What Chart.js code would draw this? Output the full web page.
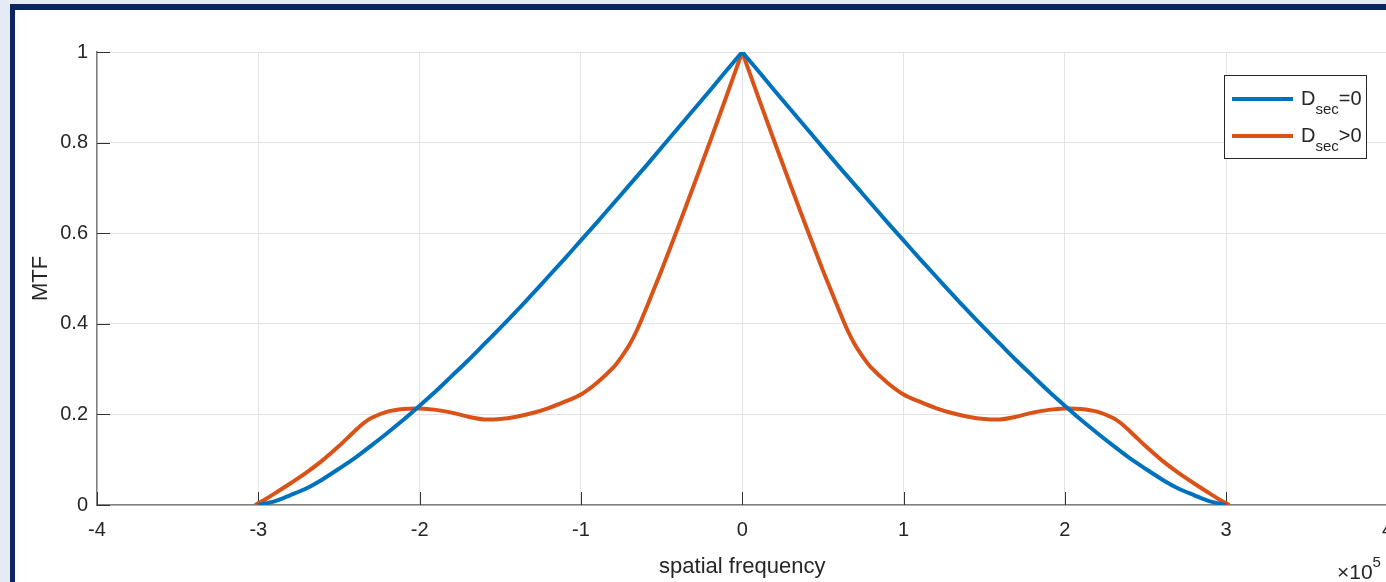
<!DOCTYPE html>
<html><head><meta charset="utf-8">
<script src="https://cdn.jsdelivr.net/npm/chart.js@4.4.1/dist/chart.umd.min.js"></script>
<style>
html,body{margin:0;padding:0;width:1386px;height:582px;overflow:hidden;background:#e4ebf4;}
#frame{position:absolute;left:10px;top:4px;width:1420px;height:620px;background:#ffffff;border-left:5px solid #0c2462;border-top:6px solid #0c2462;}
#wrap{position:absolute;left:0;top:0;width:1406px;height:582px;}
</style></head>
<body>
<div id="frame"></div>
<div id="wrap"><canvas id="c" width="1406" height="582"></canvas></div>
<script>
// ---- data (spatial frequency in units of 1e5) ----
const freqBlue = [-3.0,-2.9,-2.8,-2.7,-2.6,-2.5,-2.4,-2.3,-2.2,-2.1,-2.0,-1.9,-1.8,-1.7,-1.6,-1.5,-1.4,-1.3,-1.2,-1.1,-1.0,-0.9,-0.8,-0.7,-0.6,-0.5,-0.4,-0.3,-0.2,-0.1,0.0,0.0,
  0.1,0.2,0.3,0.4,0.5,0.6,0.7,0.8,0.9,1.0,1.1,1.2,1.3,1.4,1.5,1.6,1.7,1.8,1.9,2.0,2.1,2.2,2.3,2.4,2.5,2.6,2.7,2.8,2.9,3.0];
const mtfBlue = [0,0.008,0.022,0.037,0.057,0.080,0.104,0.131,0.159,0.188,0.219,0.251,0.285,0.319,0.355,0.391,0.428,0.466,0.505,0.544,0.584,0.624,0.665,0.706,0.747,0.789,0.831,0.873,0.915,0.958,1.000,1.000,
  0.958,0.915,0.873,0.831,0.789,0.747,0.706,0.665,0.624,0.584,0.544,0.505,0.466,0.428,0.391,0.355,0.319,0.285,0.251,0.219,0.188,0.159,0.131,0.104,0.080,0.057,0.037,0.022,0.008,0];

const freqOrange = [-3.02,-2.95,-2.9,-2.8,-2.7,-2.6,-2.5,-2.45,-2.4,-2.35,-2.3,-2.2,-2.1,-2.0,-1.9,-1.8,-1.7,-1.6,-1.5,-1.4,-1.3,-1.2,-1.1,-1.0,-0.9,-0.8,-0.75,-0.7,-0.65,-0.6,-0.55,-0.5,-0.4,-0.3,-0.2,-0.1,0.0,0.0,
  0.1,0.2,0.3,0.4,0.5,0.55,0.6,0.65,0.7,0.75,0.8,0.9,1.0,1.1,1.2,1.3,1.4,1.5,1.6,1.7,1.8,1.9,2.0,2.1,2.2,2.3,2.35,2.4,2.45,2.5,2.6,2.7,2.8,2.9,2.95,3.02];
const mtfOrange = [0,0.014,0.025,0.048,0.072,0.099,0.130,0.147,0.164,0.180,0.192,0.206,0.212,0.213,0.210,0.204,0.195,0.189,0.190,0.195,0.203,0.214,0.228,0.244,0.270,0.303,0.326,0.353,0.388,0.430,0.474,0.518,0.611,0.706,0.802,0.900,1.000,1.000,
  0.900,0.802,0.706,0.611,0.518,0.474,0.430,0.388,0.353,0.326,0.303,0.270,0.244,0.228,0.214,0.203,0.195,0.190,0.189,0.195,0.204,0.210,0.213,0.212,0.206,0.192,0.180,0.164,0.147,0.130,0.099,0.072,0.048,0.025,0.014,0];

const xTickValues = [-4,-3,-2,-1,0,1,2,3,4];
const xTickLabels = ['-4','-3','-2','-1','0','1','2','3','4'];
const yTickValues = [0,0.2,0.4,0.6,0.8,1];
const yTickLabels = ['0','0.2','0.4','0.6','0.8','1'];
const seriesNames = ['D', 'D'];
const seriesSubs = ['sec', 'sec'];
const seriesTails = ['=0', '>0'];
const xTitle = 'spatial frequency';
const yTitle = 'MTF';
const xExponent = '5';

const BLUE = '#0072BD', ORANGE = '#D95319', TXT = '#262626';
const FONT = '"Liberation Sans", Arial, Helvetica, sans-serif';

const toPts = (xs, ys) => xs.map((x, i) => ({x: x, y: ys[i]}));

const decor = {
  id: 'decor',
  beforeDatasetsDraw(chart) {
    const {ctx, chartArea: a, scales: {x, y}} = chart;
    ctx.save();
    ctx.strokeStyle = '#333333';
    ctx.lineWidth = 1;
    ctx.beginPath();
    xTickValues.forEach(v => {
      const px = Math.round(x.getPixelForValue(v)) + 0.5;
      ctx.moveTo(px, a.bottom); ctx.lineTo(px, a.bottom - 13);
    });
    yTickValues.forEach(v => {
      const py = Math.round(y.getPixelForValue(v)) + 0.5;
      ctx.moveTo(a.left, py); ctx.lineTo(a.left + 13, py);
    });
    ctx.stroke();
    ctx.restore();
  },
  afterDraw(chart) {
    const {ctx} = chart;
    ctx.save();
    // legend box
    const bx = 1224.5, by = 75.5, bw = 142, bh = 83;
    ctx.fillStyle = '#ffffff';
    ctx.fillRect(bx, by, bw, bh);
    ctx.strokeStyle = TXT; ctx.lineWidth = 1;
    ctx.strokeRect(bx, by, bw, bh);
    const colors = [BLUE, ORANGE];
    [99, 136].forEach((ly, i) => {
      ctx.strokeStyle = colors[i]; ctx.lineWidth = 4; ctx.lineCap = 'butt';
      ctx.beginPath(); ctx.moveTo(1232, ly); ctx.lineTo(1293, ly); ctx.stroke();
      ctx.fillStyle = TXT; ctx.textBaseline = 'alphabetic'; ctx.textAlign = 'left';
      ctx.font = '20px ' + FONT;
      let tx = 1301;
      const base = ly + 6;
      ctx.fillText(seriesNames[i], tx, base);
      tx += ctx.measureText(seriesNames[i]).width;
      ctx.font = '15px ' + FONT;
      ctx.fillText(seriesSubs[i], tx, base + 9);
      tx += ctx.measureText(seriesSubs[i]).width;
      ctx.font = '20px ' + FONT;
      ctx.fillText(seriesTails[i], tx, base);
    });
    // exponent label
    ctx.fillStyle = TXT; ctx.textAlign = 'left'; ctx.textBaseline = 'alphabetic';
    ctx.font = '21px ' + FONT;
    ctx.fillText('\u00D710', 1337, 579);
    const w = ctx.measureText('\u00D710').width;
    ctx.font = '15px ' + FONT;
    ctx.fillText(xExponent, 1337 + w, 567);
    ctx.restore();
  }
};

new Chart(document.getElementById('c'), {
  type: 'line',
  data: {
    datasets: [
      {label: 'Dsec=0', data: toPts(freqBlue, mtfBlue), borderColor: BLUE, borderWidth: 4, pointRadius: 0, tension: 0.3, fill: false, borderJoinStyle: 'round'},
      {label: 'Dsec>0', data: toPts(freqOrange, mtfOrange), borderColor: ORANGE, borderWidth: 4, pointRadius: 0, tension: 0.3, fill: false, borderJoinStyle: 'round'}
    ]
  },
  options: {
    responsive: false,
    animation: false,
    events: [],
    layout: {padding: {top: 52, right: 13, left: 0, bottom: 0}},
    plugins: {legend: {display: false}, tooltip: {enabled: false}},
    scales: {
      x: {
        type: 'linear', min: -4, max: 4,
        afterFit: s => { s.height = 77; },
        afterBuildTicks: s => { s.ticks = xTickValues.map(v => ({value: v})); },
        ticks: {padding: 13, color: TXT, font: {family: FONT, size: 20}, maxRotation: 0, autoSkip: false,
          callback: (v) => xTickLabels[xTickValues.indexOf(v)]},
        grid: {color: '#e3e3e3', lineWidth: 1, drawTicks: false},
        border: {display: true, color: '#808080', width: 1.5},
        title: {display: true, text: xTitle, color: TXT, font: {family: FONT, size: 22}, padding: {top: 0, bottom: 2}}
      },
      y: {
        type: 'linear', min: 0, max: 1,
        afterFit: s => { s.width = 97; },
        afterBuildTicks: s => { s.ticks = yTickValues.map(v => ({value: v})); },
        ticks: {padding: 9, color: TXT, font: {family: FONT, size: 20},
          callback: (v) => yTickLabels[yTickValues.indexOf(v)]},
        grid: {color: '#e3e3e3', lineWidth: 1, drawTicks: false},
        border: {display: true, color: '#808080', width: 1.5},
        title: {display: true, text: yTitle, color: TXT, font: {family: FONT, size: 22}, padding: {top: 28, bottom: 0}}
      }
    }
  },
  plugins: [decor]
});
</script>
</body></html>
